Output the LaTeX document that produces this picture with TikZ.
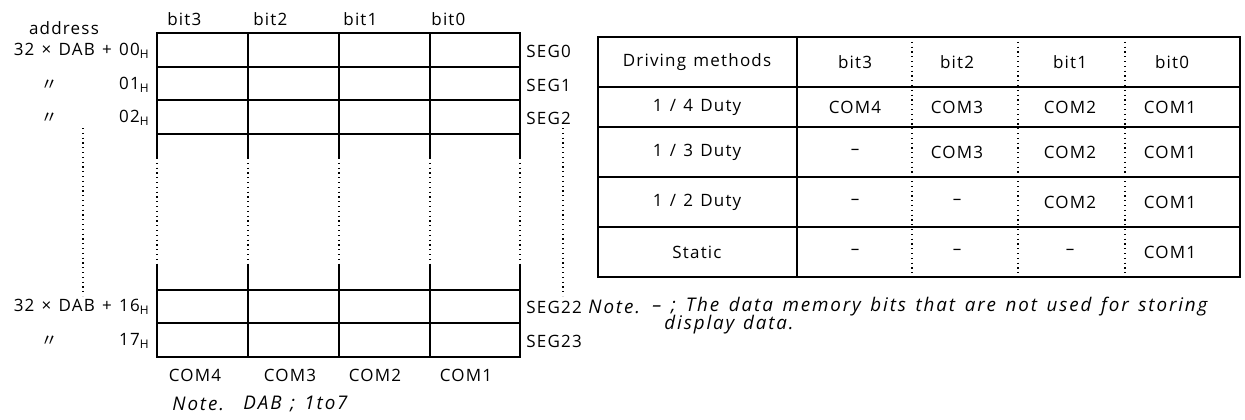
\documentclass[tikz,border=0pt]{standalone}
\usepackage{fontspec}
\setmainfont{Open Sans}[LetterSpace=7, WordSpace=1.3]
\newfontfamily\notefont{Open Sans Italic}[LetterSpace=10, WordSpace=1.3]
\newfontfamily\cjk{Noto Sans CJK JP}
\begin{document}
\begin{tikzpicture}[
    x=0.5pt, y=-0.5pt,
    txt/.style={inner sep=0pt, font=\fontsize{8.5}{10}\selectfont},
    notetext/.style={inner sep=0pt, font=\fontsize{9.4}{10}\notefont},
    gridline/.style={draw=black, line width=0.65pt},
    dots/.style={draw=black, line width=0.6pt, dash pattern=on 0.6pt off 1.8pt}
]
\useasboundingbox (0,0) rectangle (1245,419);

% Memory map: bit headers
\node[txt, anchor=west] (b3) at (167,19) {bit3};
\node[txt, anchor=west] (b2) at (253,19) {bit2};
\node[txt, anchor=west] (b1) at (343,19) {bit1};
\node[txt, anchor=west] (b0) at (431,19) {bit0};

% Memory map: upper rows
\draw[gridline] (157,33) rectangle (520,134);
\draw[gridline] (157,67) -- (520,67) (157,100) -- (520,100);
\draw[gridline] (248,33) -- (248,134) (339,33) -- (339,134) (430,33) -- (430,134);

% Memory map: gap between the rows
\draw[gridline] (157,134) -- (157,158) (248,134) -- (248,158) (339,134) -- (339,158)
    (430,134) -- (430,158) (520,134) -- (520,158);
\draw[dots] (157,158) -- (157,265) (248,158) -- (248,265) (339,158) -- (339,265)
    (430,158) -- (430,265) (520,158) -- (520,265);
\draw[gridline] (157,265) -- (157,290) (248,265) -- (248,290) (339,265) -- (339,290)
    (430,265) -- (430,290) (520,265) -- (520,290);

% Memory map: lower rows
\draw[gridline] (157,290) rectangle (520,357);
\draw[gridline] (157,323) -- (520,323);
\draw[gridline] (248,290) -- (248,357) (339,290) -- (339,357) (430,290) -- (430,357);

% Addresses
\node[txt] (addr) at (64,28) {address};
\node[txt, anchor=east] (a00) at (150,51) {32 × DAB + 00\textsubscript{H}};
\node[txt] (d01) at (49,85) {\cjk 〃};
\node[txt, anchor=east] (a01) at (150,85) {01\textsubscript{H}};
\node[txt] (d02) at (49,118) {\cjk 〃};
\node[txt, anchor=east] (a02) at (150,118) {02\textsubscript{H}};
\node[txt, anchor=east] (a16) at (150,307) {32 × DAB + 16\textsubscript{H}};
\node[txt] (d17) at (49,341) {\cjk 〃};
\node[txt, anchor=east] (a17) at (150,341) {17\textsubscript{H}};
\draw[dots] (83,128) -- (83,296);

% Segments
\node[txt, anchor=west] (s0) at (526,51) {SEG0};
\node[txt, anchor=west] (s1) at (526,85) {SEG1};
\node[txt, anchor=west] (s2) at (526,118) {SEG2};
\node[txt, anchor=west] (s22) at (526,307) {SEG22};
\node[txt, anchor=west] (s23) at (526,341) {SEG23};
\draw[dots] (563,128) -- (563,296);

% Commons
\node[txt] (c4) at (195,375) {COM4};
\node[txt] (c3) at (290,375) {COM3};
\node[txt] (c2) at (375,375) {COM2};
\node[txt] (c1) at (466,375) {COM1};

% Note under the memory map
\node[notetext, anchor=west] (n1) at (172,404) {Note.};
\node[notetext, anchor=west] (n1t) at (243,404) {DAB ;\enspace 1to7};

% Driving methods table
\draw[gridline] (598,37) rectangle (1240,277);
\draw[gridline] (598,87) -- (1240,87) (598,127) -- (1240,127) (598,177) -- (1240,177)
    (598,227) -- (1240,227);
\draw[gridline] (797,37) -- (797,277);
\draw[dots] (912,37) -- (912,277) (1018,37) -- (1018,277) (1125,37) -- (1125,277);

% Header row
\node[txt] (th) at (697,62) {Driving methods};
\node[txt] (t3) at (855,62) {bit3};
\node[txt] (t2) at (957,62) {bit2};
\node[txt] (t1) at (1070,62) {bit1};
\node[txt] (t0) at (1172,62) {bit0};

% Row 1: 1/4 Duty
\node[txt] (r1h) at (697,107) {1 / 4 Duty};
\node[txt] (r1c3) at (855,107) {COM4};
\node[txt] (r1c2) at (957,107) {COM3};
\node[txt] (r1c1) at (1070,107) {COM2};
\node[txt] (r1c0) at (1170,107) {COM1};

% Row 2: 1/3 Duty
\node[txt] (r2h) at (697,152) {1 / 3 Duty};
\node[txt] (r2c3) at (855,152) {–};
\node[txt] (r2c2) at (957,152) {COM3};
\node[txt] (r2c1) at (1070,152) {COM2};
\node[txt] (r2c0) at (1170,152) {COM1};

% Row 3: 1/2 Duty
\node[txt] (r3h) at (697,202) {1 / 2 Duty};
\node[txt] (r3c3) at (855,202) {–};
\node[txt] (r3c2) at (957,202) {–};
\node[txt] (r3c1) at (1070,202) {COM2};
\node[txt] (r3c0) at (1170,202) {COM1};

% Row 4: Static
\node[txt] (r4h) at (697,252) {Static};
\node[txt] (r4c3) at (855,252) {–};
\node[txt] (r4c2) at (957,252) {–};
\node[txt] (r4c1) at (1070,252) {–};
\node[txt] (r4c0) at (1170,252) {COM1};

% Note under the table
\node[notetext, anchor=west] (n2) at (588,307) {Note.};
\node[notetext, anchor=west] (n2a) at (652,307)
    {\makebox[277.5pt][s]{– ; The data memory bits that are not used for storing}};
\node[notetext, anchor=west] (n2b) at (664,325) {display data.};

\end{tikzpicture}
\end{document}
